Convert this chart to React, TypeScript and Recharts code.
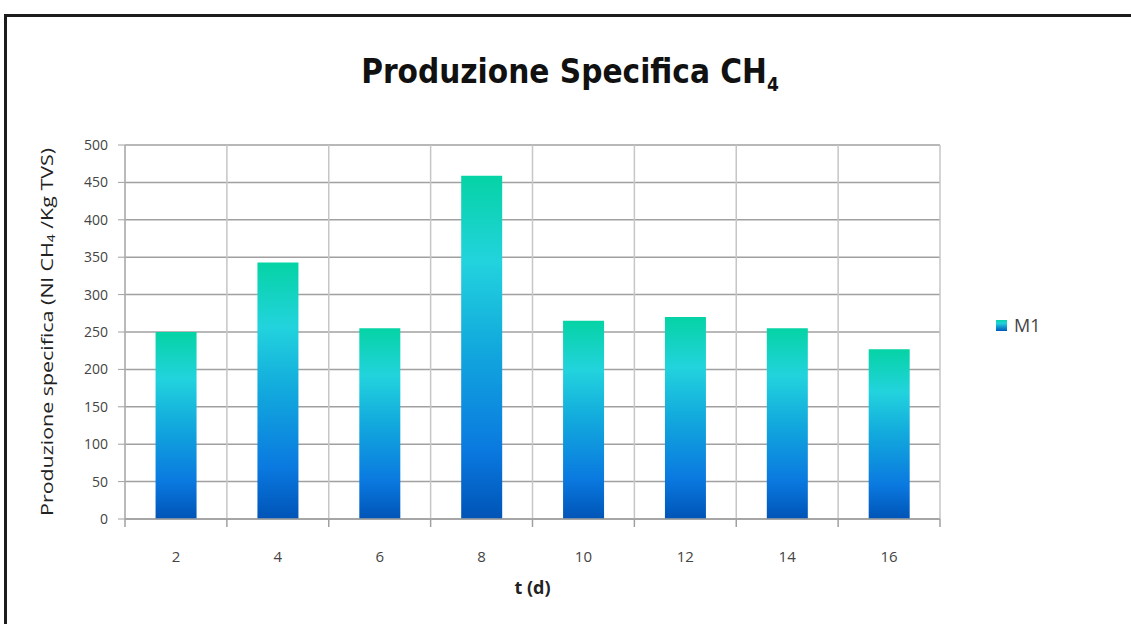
import React from 'react';
import { BarChart, Bar, XAxis, YAxis, CartesianGrid, Legend, Label } from 'recharts';

const categories = ['2', '4', '6', '8', '10', '12', '14', '16'];
const m1Values = [250, 343, 255, 459, 265, 270, 255, 227];
const yTicks = [0, 50, 100, 150, 200, 250, 300, 350, 400, 450, 500];
const seriesName = 'M1';
const titleText = 'Produzione Specifica CH';
const yLabelText = 'Produzione specifica (Nl CH';
const yLabelTail = ' /Kg TVS)';
const xLabelText = 't (d)';

const data = categories.map((t, i) => ({ t, M1: m1Values[i] }));

const narrow = "'Liberation Sans Narrow', 'DejaVu Sans Condensed', 'Open Sans', sans-serif";
const tickFont = "'Open Sans', 'DejaVu Sans', sans-serif";
const gridH = '#a0a0a0';
const gridV = '#c6c6c6';

const YLabel = (props: any) => {
  const vb = props.viewBox || {};
  const cx = vb.x - 19;
  const cy = vb.y + vb.height / 2;
  return (
    <text
      x={cx}
      y={cy}
      transform={`rotate(-90, ${cx}, ${cy})`}
      textAnchor="middle"
      dominantBaseline="central"
      fontFamily={tickFont}
      fontSize={17}
      textLength={368}
      lengthAdjust="spacingAndGlyphs"
      fill="#222"
    >
      {yLabelText}
      <tspan fontSize={11} dy={4}>4</tspan>
      <tspan dy={-4}>{yLabelTail}</tspan>
    </text>
  );
};

const XLabel = (props: any) => {
  const vb = props.viewBox || {};
  const cx = vb.x + vb.width / 2;
  return (
    <text x={cx} y={vb.y + 75} textAnchor="middle" fontFamily={tickFont} fontSize={18} fontWeight="bold" fill="#222">
      {xLabelText}
    </text>
  );
};

const XTick = (props: any) => {
  const { x, y, payload, index, visibleTicksCount } = props;
  const half = payload && payload.offset ? payload.offset : 0;
  const isLast = index === visibleTicksCount - 1;
  return (
    <g>
      <line x1={x - half} x2={x - half} y1={y - 8} y2={y} stroke={gridH} strokeWidth={1.5} />
      {isLast && <line x1={x + half} x2={x + half} y1={y - 8} y2={y} stroke={gridH} strokeWidth={1.5} />}
      <text x={x} y={y + 35} textAnchor="middle" fontFamily={tickFont} fontSize={15} fill="#444">
        {payload.value}
      </text>
    </g>
  );
};

const LegendContent = () => (
  <div style={{ display: 'flex', alignItems: 'center', fontFamily: tickFont, fontSize: 18, color: '#444' }}>
    <svg width={11} height={11} style={{ marginRight: 7 }}>
      <defs>
        <linearGradient id="legGrad" x1="0" y1="0" x2="0" y2="1">
          <stop offset="0%" stopColor="#06d4a6" />
          <stop offset="30%" stopColor="#22d2dc" />
          <stop offset="100%" stopColor="#0058bc" />
        </linearGradient>
      </defs>
      <rect x={0} y={0} width={11} height={11} fill="url(#legGrad)" />
    </svg>
    <span>{seriesName}</span>
  </div>
);

const verticalGen = ({ offset }: any) =>
  categories.map((_, i) => offset.left + (i * offset.width) / categories.length).concat(offset.left + offset.width);

export default function App() {
  return (
    <div style={{ position: 'absolute', left: 0, top: 0, width: 1131, height: 624, background: '#fff', overflow: 'hidden' }}>
      <div
        style={{
          position: 'absolute',
          left: 4,
          top: 14,
          width: 1140,
          height: 640,
          borderTop: '3px solid #1c1c1c',
          borderLeft: '3px solid #1c1c1c',
        }}
      />
      <div
        style={{
          position: 'absolute',
          left: 0,
          width: 1140,
          top: 52,
          textAlign: 'center',
          fontFamily: narrow,
          fontWeight: 'bold',
          fontSize: 33,
          color: '#111',
        }}
      >
        {titleText}
        <sub style={{ fontSize: 19 }}>4</sub>
      </div>
      <div style={{ position: 'absolute', left: 0, top: 0 }}>
        <BarChart
          width={1131}
          height={624}
          data={data}
          margin={{ top: 145, right: 191, bottom: 45, left: 65 }}
          barCategoryGap="30%"
        >
          <defs>
            <linearGradient id="barGrad" x1="0" y1="0" x2="0" y2="1">
              <stop offset="0%" stopColor="#05d3a5" />
              <stop offset="25%" stopColor="#22d3dd" />
              <stop offset="50%" stopColor="#12a9dd" />
              <stop offset="80%" stopColor="#0a79e0" />
              <stop offset="100%" stopColor="#0054b6" />
            </linearGradient>
          </defs>
          <CartesianGrid horizontal={true} vertical={false} stroke={gridH} strokeWidth={1.5} />
          <CartesianGrid
            horizontal={false}
            vertical={true}
            verticalCoordinatesGenerator={verticalGen}
            stroke={gridV}
            strokeWidth={1.5}
          />
          <XAxis
            dataKey="t"
            height={60}
            tickLine={false}
            tickSize={8}
            tickMargin={0}
            stroke={gridH}
            strokeWidth={1.5}
            interval={0}
            tick={<XTick />}
          >
            <Label content={<XLabel />} />
          </XAxis>
          <YAxis
            domain={[0, 500]}
            ticks={yTicks}
            width={60}
            tickSize={7}
            tickMargin={10}
            stroke={gridH}
            tick={{ fontFamily: tickFont, fontSize: 14, fill: '#444' }}
          >
            <Label content={<YLabel />} />
          </YAxis>
          <Legend
            layout="vertical"
            align="center"
            verticalAlign="middle"
            wrapperStyle={{ left: 996, top: 313 }}
            content={<LegendContent />}
          />
          <Bar dataKey="M1" name={seriesName} fill="url(#barGrad)" isAnimationActive={false} />
        </BarChart>
      </div>
    </div>
  );
}
